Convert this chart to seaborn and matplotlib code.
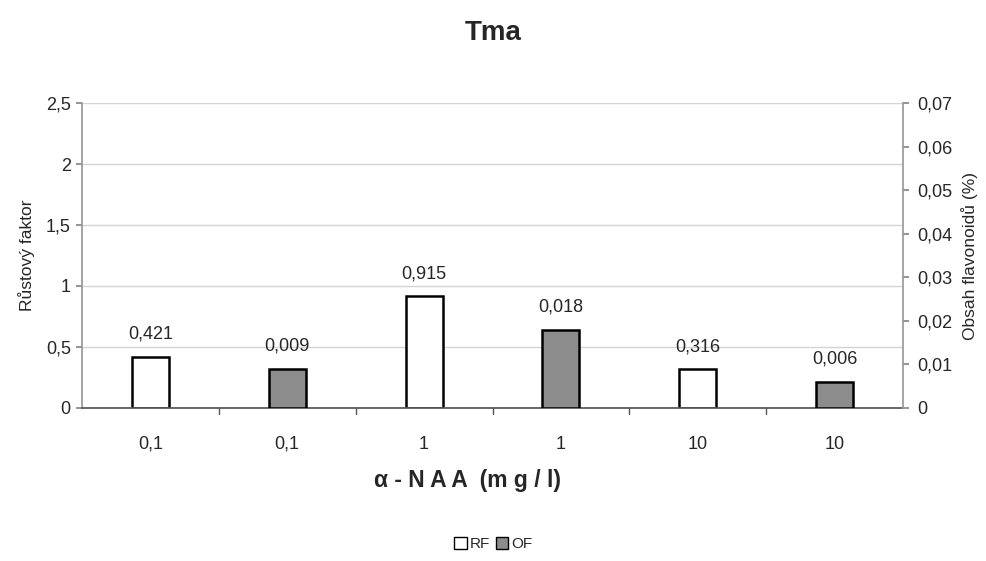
import matplotlib
matplotlib.use("Agg")
import matplotlib.pyplot as plt
import seaborn as sns
import pandas as pd
import numpy as np
from matplotlib.patches import Patch

categories = ["0,1", "0,1", "1", "1", "10", "10"]
series = ["RF", "OF", "RF", "OF", "RF", "OF"]
values = [0.421, 0.009, 0.915, 0.018, 0.316, 0.006]
value_labels = ["0,421", "0,009", "0,915", "0,018", "0,316", "0,006"]
left_ticks = [0, 0.5, 1, 1.5, 2, 2.5]
left_tick_labels = ["0", "0,5", "1", "1,5", "2", "2,5"]
right_ticks = [0, 0.01, 0.02, 0.03, 0.04, 0.05, 0.06, 0.07]
right_tick_labels = ["0", "0,01", "0,02", "0,03", "0,04", "0,05", "0,06", "0,07"]

sns.set_theme(style="white")
plt.rcParams["font.family"] = ["Liberation Sans", "DejaVu Sans"]

df = pd.DataFrame({"pos": list(range(len(categories))), "series": series, "value": values})
rf = df[df.series == "RF"]
of = df[df.series == "OF"]

fig = plt.figure(figsize=(9.87, 5.61), dpi=100)
ax = fig.add_axes([0.083, 0.273, 0.832, 0.543])
ax2 = ax.twinx()

order = list(range(len(categories)))
sns.barplot(data=rf, x="pos", y="value", order=order, ax=ax, color="white",
            edgecolor="black", linewidth=1.8, width=0.27, saturation=1)
sns.barplot(data=of, x="pos", y="value", order=order, ax=ax2, color="#8c8c8c",
            edgecolor="black", linewidth=1.8, width=0.27, saturation=1)

ax.set_ylim(0, 2.5)
ax2.set_ylim(0, 0.07)
ax.set_xlim(-0.5, len(categories) - 0.5)

tick_fs = 13
ax.set_yticks(left_ticks)
ax.set_yticklabels(left_tick_labels, fontsize=tick_fs)
ax2.set_yticks(right_ticks)
ax2.set_yticklabels(right_tick_labels, fontsize=tick_fs)

ax.yaxis.grid(True, color="#d4d4d4", linewidth=1)
ax.set_axisbelow(True)

ax.set_xticks(order)
ax.set_xticklabels(categories, fontsize=tick_fs)
ax.tick_params(axis="x", length=0, pad=20)
for b in np.arange(0.5, len(categories) - 0.5, 1):
    ax.plot([b, b], [0, -0.05], color="#555555", linewidth=1, clip_on=False, transform=ax.transData)

ax.tick_params(axis="y", length=4, color="#888888", left=True, pad=4)
ax2.tick_params(axis="y", length=4, color="#888888", right=True, pad=6)

for a in (ax, ax2):
    for s in a.spines.values():
        s.set_visible(False)
ax.spines["left"].set_visible(True)
ax.spines["left"].set_color("#999999")
ax.spines["bottom"].set_visible(True)
ax.spines["bottom"].set_color("#555555")
ax2.spines["right"].set_visible(True)
ax2.spines["right"].set_color("#999999")

rf_labels = [value_labels[i] for i in rf.index]
of_labels = [value_labels[i] for i in of.index]
ax.bar_label(ax.containers[0], labels=rf_labels, padding=10, fontsize=tick_fs)
ax2.bar_label(ax2.containers[0], labels=of_labels, padding=10, fontsize=tick_fs)

ax.set_xlabel("α - N A A  (m g / l)", fontsize=16.5, fontweight="bold")
ax.xaxis.set_label_coords(0.47, -0.2)
ax.set_ylabel("Růstový faktor", fontsize=12.5, labelpad=8)
ax2.set_ylabel("Obsah flavonoidů (%)", fontsize=12.5, labelpad=6)

fig.suptitle("Tma", fontsize=20, fontweight="bold", y=0.965)

handles = [Patch(facecolor="white", edgecolor="black", label="RF"),
           Patch(facecolor="#8c8c8c", edgecolor="black", label="OF")]
fig.legend(handles=handles, loc="center", bbox_to_anchor=(0.5, 0.03), ncol=2,
           frameon=False, fontsize=11, handlelength=0.8, handleheight=0.8,
           handletextpad=0.2, columnspacing=0.4)

fig.savefig("out.png", dpi=100)
